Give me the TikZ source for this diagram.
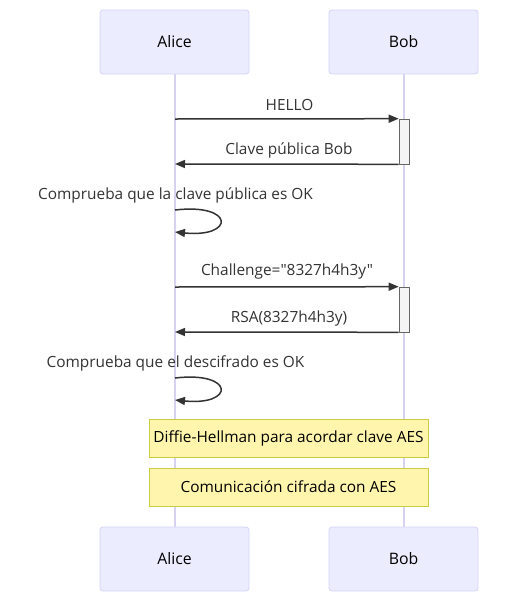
\documentclass[tikz,border=0pt]{standalone}
\usepackage{fontspec}
\setmainfont{Open Sans}[Ligatures=TeXOff]
\usetikzlibrary{arrows.meta}
\definecolor{actfill}{HTML}{ECECFF}
\definecolor{actline}{HTML}{D4D4F7}
\definecolor{life}{HTML}{D8D2F0}
\definecolor{msg}{HTML}{333333}
\definecolor{notefill}{HTML}{FFF5AD}
\definecolor{noteline}{HTML}{CCCC44}
\definecolor{actvfill}{HTML}{F4F4F4}
\definecolor{actvline}{HTML}{666666}
\tikzset{
  actor/.style={draw=actline, fill=actfill, rounded corners=3pt, minimum width=149pt, minimum height=64pt, line width=0.8pt, font=\fontsize{15.8}{18}\selectfont, text=black},
  lifeline/.style={draw=life, line width=1.6pt},
  msgline/.style={draw=msg, line width=1.5pt, -{Triangle[length=10pt,width=8pt]}},
  lbl/.style={font=\fontsize{15.4}{18}\selectfont, text=msg, inner sep=0pt},
  activ/.style={draw=actvline, fill=actvfill, line width=0.6pt, minimum width=10pt, inner sep=0pt},
  note/.style={draw=noteline, fill=notefill, line width=0.8pt, minimum width=279pt, minimum height=38pt, font=\fontsize{15.4}{18}\selectfont, text=black, inner sep=0pt}
}
\begin{document}
\begin{tikzpicture}[x=1pt,y=-1pt]
\useasboundingbox (0,0) rectangle (529,603);
% lifelines
\coordinate (at) at (175,74);
\coordinate (ab) at (175,527);
\coordinate (bt) at (404,74);
\coordinate (bb) at (404,527);
\draw[lifeline] (at) -- (ab);
\draw[lifeline] (bt) -- (bb);
% actors
\node[actor] (A) at (174.5,42) {Alice};
\node[actor] (B) at (403.5,42) {Bob};
\node[actor] (A2) at (174.5,559) {Alice};
\node[actor] (B2) at (403.5,559) {Bob};
% activations
\node[activ, minimum height=45pt] (act1) at (404,141.5) {};
\node[activ, minimum height=45pt] (act2) at (404,309.5) {};
% messages
\coordinate (m1s) at (175,119);
\draw[msgline] (m1s) -- (act1.north west);
\node[lbl] (l1) at (289.5,105) {HELLO};
\coordinate (m2e) at (175,164);
\draw[msgline] (act1.south west) -- (m2e);
\node[lbl] (l2) at (289,150) {Clave pública Bob};
% self 1
\coordinate (s1a) at (175,210);
\coordinate (s1b) at (175,232);
\draw[msgline] (s1a) .. controls (235,203) and (235,238) .. (s1b);
\node[lbl] (l3) at (175.5,195) {Comprueba que la clave pública es OK};
% challenge
\coordinate (m3s) at (175,287);
\draw[msgline] (m3s) -- (act2.north west);
\node[lbl] (l4) at (287,271) {Challenge="8327h4h3y"};
\coordinate (m4e) at (175,332);
\draw[msgline] (act2.south west) -- (m4e);
\node[lbl] (l5) at (289,318) {RSA(8327h4h3y)};
% self 2
\coordinate (s2a) at (175,378);
\coordinate (s2b) at (175,400);
\draw[msgline] (s2a) .. controls (235,371) and (235,406) .. (s2b);
\node[lbl] (l6) at (175.5,363) {Comprueba que el descifrado es OK};
% notes
\node[note] (n1) at (288.5,438) {Diffie-Hellman para acordar clave AES};
\node[note] (n2) at (288.5,487) {Comunicación cifrada con AES};
\end{tikzpicture}
\end{document}
